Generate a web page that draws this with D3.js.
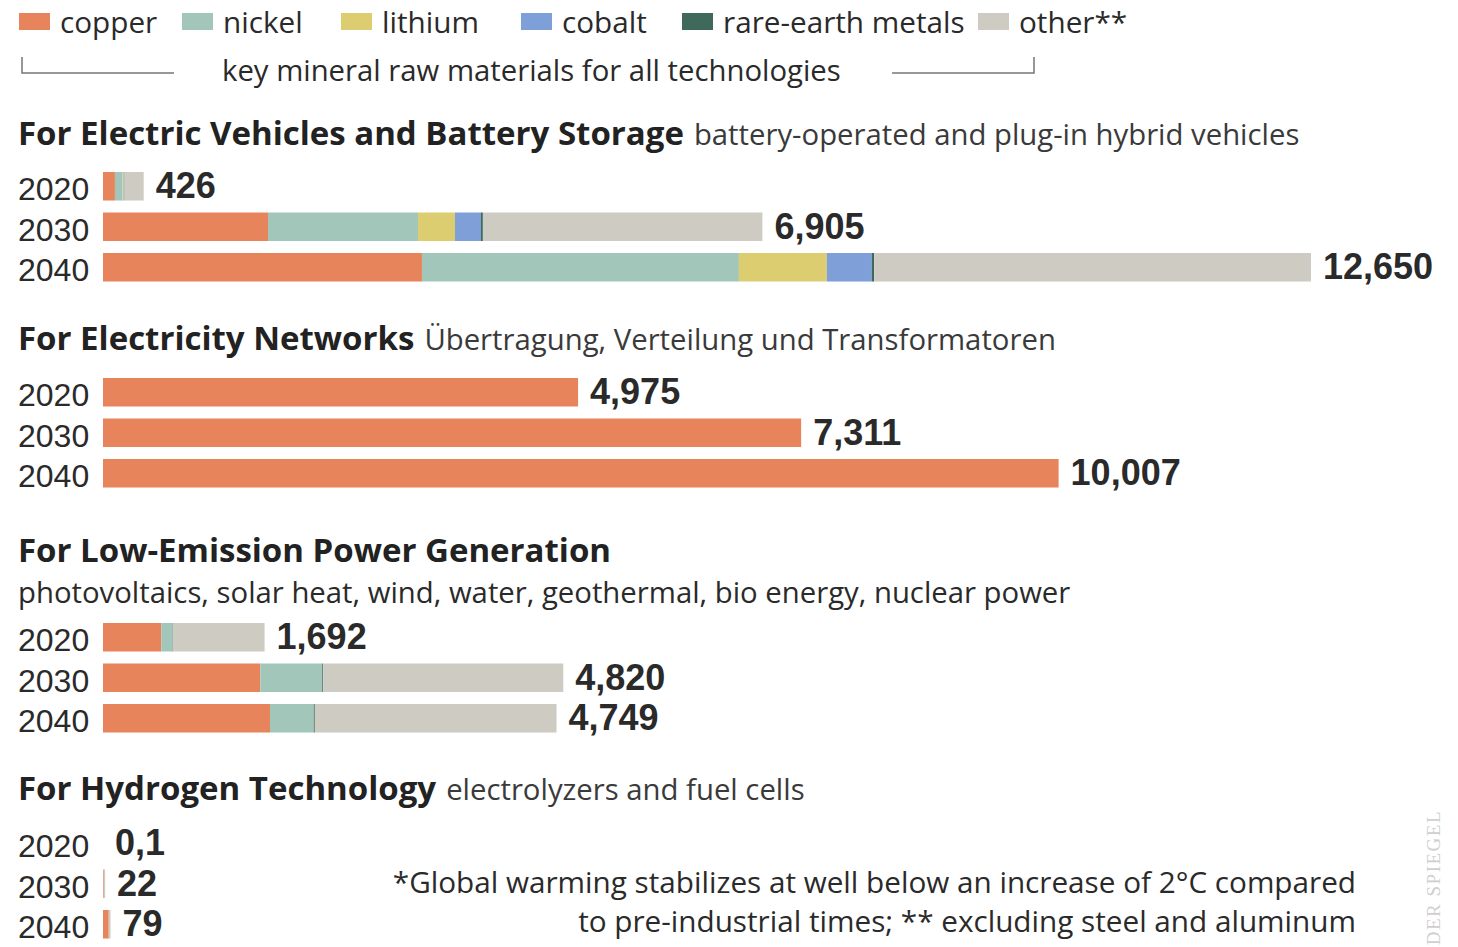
<!DOCTYPE html>
<html>
<head>
<meta charset="utf-8">
<script src="https://cdn.jsdelivr.net/npm/d3@7"></script>
<style>
  html, body { margin: 0; padding: 0; background: #fff; }
  svg { display: block; }
  .txt { font-family: "Open Sans", Lato, sans-serif; fill: #2a2a2a; }
  .num { font-family: "Liberation Sans", Arial, sans-serif; fill: #2a2a2a; }
</style>
</head>
<body>
<svg id="chart" width="1458" height="947"></svg>
<script>
// ---- data (thousand tonnes of mineral demand, sustainable-development scenario*) ----
const minerals = ["copper", "nickel", "lithium", "cobalt", "rare-earth metals", "other**"];
const mineralColors = ["#e8845c", "#a2c6b9", "#dccd70", "#7e9fd8", "#3f695b", "#cecbc3"];
const years = ["2020", "2030", "2040"];

const groupTitles = [
  "For Electric Vehicles and Battery Storage",
  "For Electricity Networks",
  "For Low-Emission Power Generation",
  "For Hydrogen Technology"
];
const groupNotes = [
  "battery-operated and plug-in hybrid vehicles",
  "Übertragung, Verteilung und Transformatoren",
  "photovoltaics, solar heat, wind, water, geothermal, bio energy, nuclear power",
  "electrolyzers and fuel cells"
];

// one row per year, one value per mineral (copper, nickel, lithium, cobalt, rare earths, other)
const evMix = [
  [125, 80, 10, 8, 3, 200],
  [1728, 1571, 387, 272, 20, 2927],
  [3340, 3319, 921, 471, 25, 4574]
];
const gridMix = [
  [4975, 0, 0, 0, 0, 0],
  [7311, 0, 0, 0, 0, 0],
  [10007, 0, 0, 0, 0, 0]
];
const powerMix = [
  [610, 115, 0, 0, 5, 962],
  [1647, 649, 0, 0, 10, 2514],
  [1749, 459, 0, 0, 10, 2531]
];
const hydrogenMix = [
  [0.1, 0, 0, 0, 0, 0],
  [8, 0, 0, 0, 0, 14],
  [60, 0, 0, 0, 0, 19]
];

const footnoteLines = [
  "*Global warming stabilizes at well below an increase of 2°C compared",
  "to pre-industrial times; ** excluding steel and aluminum"
];
const legendCaption = "key mineral raw materials for all technologies";
const credit = "DER SPIEGEL";

// ---- layout ----
const svg = d3.select("#chart");
const mixes = [evMix, gridMix, powerMix, hydrogenMix];
const titleBaseline = [145, 350, 562, 800];
const noteOwnLine = [false, false, true, false];
const barsTop = [172, 378, 623, 829];

const x = d3.scaleLinear().domain([0, 12650]).range([103, 1311]);
const color = d3.scaleOrdinal().domain(d3.range(minerals.length)).range(mineralColors);
const stack = d3.stack().keys(d3.range(minerals.length)).value((row, k) => row[k]);

const fmt = v => v < 1 ? String(v).replace(".", ",") : d3.format(",")(v);

// ---- legend ----
const legendX = [19, 182, 341, 521, 682, 978];
const legend = svg.append("g");
legend.selectAll("rect").data(minerals).join("rect")
  .attr("x", (d, i) => legendX[i]).attr("y", 13)
  .attr("width", 31).attr("height", 17)
  .attr("fill", (d, i) => color(i));
legend.selectAll("text").data(minerals).join("text")
  .attr("class", "txt")
  .attr("x", (d, i) => legendX[i] + 41).attr("y", 33)
  .attr("font-size", 29.7).attr("fill", "#3a3a3a")
  .text(d => d);

// bracket spanning the key minerals
const bracket = svg.append("g").attr("fill", "none").attr("stroke", "#777").attr("stroke-width", 1.5);
bracket.append("path").attr("d", "M22,57V73H174");
bracket.append("path").attr("d", "M892,73H1034V57");
svg.append("text").attr("class", "txt")
  .attr("x", 222).attr("y", 81).attr("font-size", 29.3).attr("fill", "#3a3a3a")
  .text(legendCaption);

// ---- groups ----
mixes.forEach((mix, gi) => {
  const g = svg.append("g");

  const title = g.append("text").attr("class", "txt").attr("x", 18).attr("y", titleBaseline[gi]);
  title.append("tspan").attr("font-weight", 700).attr("font-size", 33).attr("fill", "#222")
    .text(groupTitles[gi]);
  if (noteOwnLine[gi]) {
    g.append("text").attr("class", "txt").attr("x", 18).attr("y", titleBaseline[gi] + 41)
      .attr("font-size", 29.3).attr("fill", "#3a3a3a").text(groupNotes[gi]);
  } else {
    title.append("tspan").attr("dx", 10).attr("font-size", 29.3).attr("fill", "#3a3a3a")
      .text(groupNotes[gi]);
  }

  const y = d3.scaleBand().domain(years)
    .range([barsTop[gi], barsTop[gi] + 40.5 * (3 - 0.296)])
    .paddingInner(0.296).paddingOuter(0);

  const series = stack(mix);
  g.selectAll("g.layer").data(series).join("g").attr("class", "layer")
    .attr("fill", s => color(s.key))
    .selectAll("rect").data(s => s).join("rect")
      .attr("x", d => x(d[0]))
      .attr("y", (d, i) => y(years[i]))
      .attr("width", d => Math.max(0, x(d[1]) - x(d[0])))
      .attr("height", y.bandwidth());

  g.selectAll("text.year").data(years).join("text")
    .attr("class", "num year")
    .attr("x", 18).attr("y", d => y(d) + y.bandwidth() / 2 + 14)
    .attr("font-size", 32).attr("fill", "#333")
    .text(d => d);

  const totals = mix.map(row => d3.sum(row));
  g.selectAll("text.total").data(totals).join("text")
    .attr("class", "num total")
    .attr("x", d => x(d) + 12)
    .attr("y", (d, i) => y(years[i]) + y.bandwidth() / 2 + 12)
    .attr("font-size", 36).attr("font-weight", 700).attr("fill", "#1e1e1e")
    .text(d => fmt(Math.round(d * 10) / 10));
});

// ---- footnote ----
svg.append("g").selectAll("text").data(footnoteLines).join("text")
  .attr("class", "txt")
  .attr("x", 1356).attr("y", (d, i) => 893 + i * 39)
  .attr("text-anchor", "end").attr("font-size", 29.7).attr("fill", "#333")
  .text(d => d);

// ---- credit ----
svg.append("text")
  .attr("transform", "translate(1440,810) rotate(-90)")
  .attr("text-anchor", "end")
  .attr("font-family", "\"Liberation Serif\", serif")
  .attr("font-size", 19).attr("letter-spacing", 1.5).attr("fill", "#cfcfcf")
  .text(credit);
</script>
</body>
</html>
